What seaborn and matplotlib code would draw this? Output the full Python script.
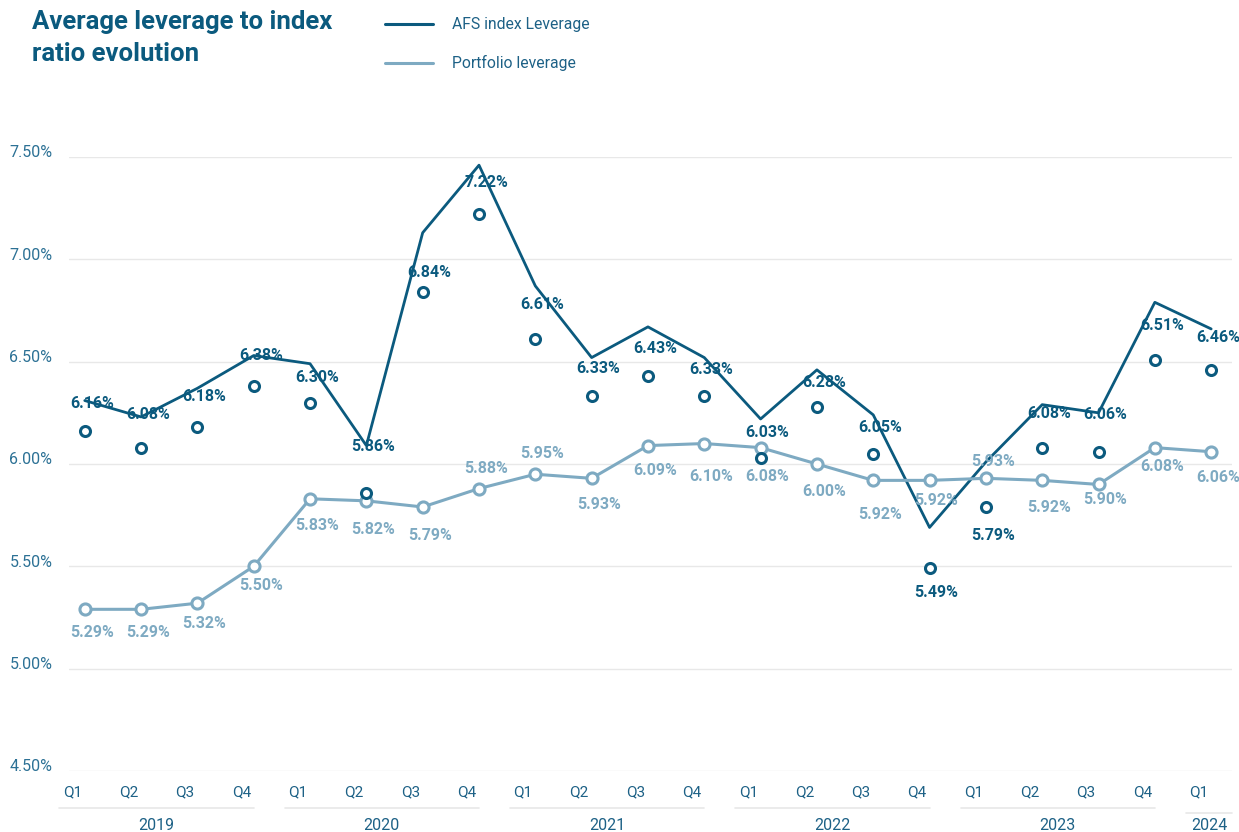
import numpy as np
import pandas as pd
import matplotlib
matplotlib.use("Agg")
import matplotlib.pyplot as plt
from matplotlib.lines import Line2D
from matplotlib.transforms import ScaledTranslation, blended_transform_factory
import seaborn as sns

# ---- data -------------------------------------------------------------
years = ["2019"] * 4 + ["2020"] * 4 + ["2021"] * 4 + ["2022"] * 4 + ["2023"] * 4 + ["2024"]
quarters = ["Q1", "Q2", "Q3", "Q4"] * 5 + ["Q1"]

# AFS index leverage (line, %)
afs_index = [6.31, 6.23, 6.37, 6.53, 6.49, 6.09, 7.13, 7.46, 6.87, 6.52, 6.67,
             6.52, 6.22, 6.46, 6.24, 5.69, 6.01, 6.29, 6.25, 6.79, 6.66]
# average leverage to index ratio (labelled circles, %)
index_ratio = [6.16, 6.08, 6.18, 6.38, 6.30, 5.86, 6.84, 7.22, 6.61, 6.33, 6.43,
               6.33, 6.03, 6.28, 6.05, 5.49, 5.79, 6.08, 6.06, 6.51, 6.46]
# portfolio leverage (%)
portfolio = [5.29, 5.29, 5.32, 5.50, 5.83, 5.82, 5.79, 5.88, 5.95, 5.93, 6.09,
             6.10, 6.08, 6.00, 5.92, 5.92, 5.93, 5.92, 5.90, 6.08, 6.06]

y_ticks = [4.50, 5.00, 5.50, 6.00, 6.50, 7.00, 7.50]

# vertical label offsets in pixels (positive = above the marker)
ratio_label_dy = [28, 33, 31, 31, 25, 46, 20, 32, 35, 28, 27, 27, 25, 24, 26,
                  -24, -29, 34, 37, 34, 32]
portfolio_label_dy = [-23, -23, -20, -19, -27, -29, -29, 20, 21, -26, -25, -33,
                      -29, -28, -34, -20, 17, -27, -15, -19, -26]

DARK = "#0b5a7e"
LIGHT = "#7eaac2"
TICK = "#2c7195"
GRID = "#e8e8e8"

df = pd.DataFrame({
    "idx": np.arange(len(quarters)),
    "year": years,
    "quarter": quarters,
    "afs": afs_index,
    "ratio": index_ratio,
    "portfolio": portfolio,
})

sns.set_theme(style="white")
plt.rcParams["font.family"] = ["Roboto", "DejaVu Sans"]

fig = plt.figure(figsize=(12.39, 8.32), dpi=100)
W, H = 1239, 832
ax = fig.add_axes([69 / W, 1 - 771 / H, (1232 - 69) / W, (771 - 157) / H])

# lines and markers
sns.lineplot(data=df, x="idx", y="afs", ax=ax, color=DARK, linewidth=2.0,
             zorder=3, clip_on=False)
sns.lineplot(data=df, x="idx", y="portfolio", ax=ax, color=LIGHT, linewidth=2.2,
             marker="o", markersize=8, markerfacecolor="white",
             markeredgecolor=LIGHT, markeredgewidth=2.2, zorder=4, clip_on=False)
sns.scatterplot(data=df, x="idx", y="ratio", ax=ax, s=52, facecolor="white",
                edgecolor=DARK, linewidth=2.2, zorder=5, clip_on=False)

# value labels
for i, row in df.iterrows():
    dy = ratio_label_dy[i]
    ax.annotate(f"{row['ratio']:.2f}%", (row["idx"], row["ratio"]),
                xytext=(7, dy), textcoords="offset pixels",
                ha="center", va="center", fontsize=11.5, fontweight="bold",
                color=DARK, zorder=6)
    dy = portfolio_label_dy[i]
    ax.annotate(f"{row['portfolio']:.2f}%", (row["idx"], row["portfolio"]),
                xytext=(7, dy), textcoords="offset pixels",
                ha="center", va="center", fontsize=11.5, fontweight="bold",
                color=LIGHT, zorder=6)

# axes styling
ax.set_xlim(-0.28, 20.37)
ax.set_ylim(4.50, 7.50)
ax.set_yticks(y_ticks)
ax.set_yticklabels([f"{v:.2f}%" for v in y_ticks])
ax.grid(axis="y", color=GRID, linewidth=1.0)
ax.grid(axis="x", visible=False)
for s in ax.spines.values():
    s.set_visible(False)
ax.tick_params(axis="y", length=0, pad=12, labelsize=11.5, labelcolor=TICK)
for lbl in ax.get_yticklabels():
    lbl.set_transform(lbl.get_transform() + ScaledTranslation(0, 4 / 72, fig.dpi_scale_trans))

ax.set_xticks(df["idx"] - 0.22)
ax.set_xticklabels(quarters)
ax.tick_params(axis="x", length=0, pad=10, labelsize=11, labelcolor="#1d6186")
ax.set_xlabel("")
ax.set_ylabel("")

# year groups below the quarter labels
trans = blended_transform_factory(ax.transData, fig.transFigure)
for yr, grp in df.groupby("year", sort=True):
    first, last = grp["idx"].min(), grp["idx"].max()
    start = first - 0.45
    end = last if last > first else first + 0.37
    y_line = 1 - 808 / H if last > first else 1 - 813 / H
    fig.add_artist(Line2D([start, end], [y_line, y_line], transform=trans,
                          color=GRID, linewidth=1.2))
    fig.text((start + end) / 2, 1 - 826 / H, yr, transform=trans,
             ha="center", va="center", fontsize=11.5, color="#1d6186")

# title
fig.text(32 / W, 1 - 22 / H, "Average leverage to index", fontsize=18.5,
         fontweight="bold", color=DARK, ha="left", va="center")
fig.text(32 / W, 1 - 54 / H, "ratio evolution", fontsize=18.5,
         fontweight="bold", color=DARK, ha="left", va="center")

# legend
for ypx, col, txt in [(24, DARK, "AFS index Leverage"),
                      (63, LIGHT, "Portfolio leverage")]:
    yf = 1 - ypx / H
    fig.add_artist(Line2D([385 / W, 433 / W], [yf, yf], transform=fig.transFigure,
                          color=col, linewidth=2.2))
    fig.text(452 / W, yf, txt, fontsize=11.3, color="#1d6186",
             ha="left", va="center")

fig.savefig("out.png", dpi=100, facecolor="white")
